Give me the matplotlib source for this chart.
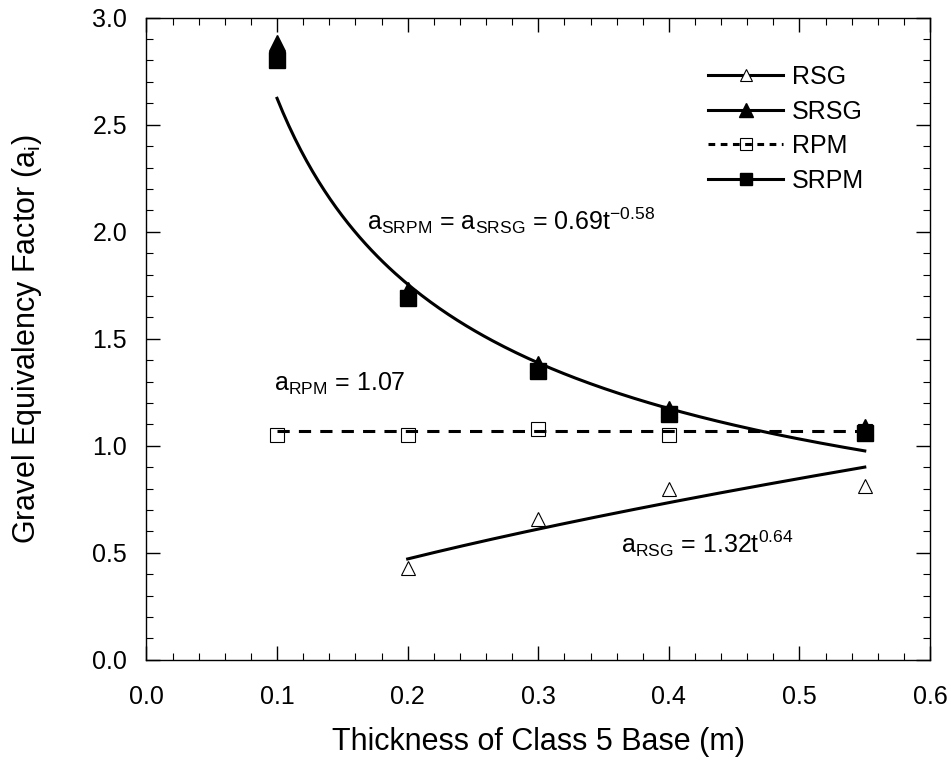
import numpy as np
import matplotlib
matplotlib.use("Agg")
import matplotlib.pyplot as plt
from matplotlib.ticker import MultipleLocator

plt.rcParams['font.family'] = ['Liberation Sans', 'DejaVu Sans']
plt.rcParams['mathtext.fontset'] = 'custom'
plt.rcParams['mathtext.rm'] = 'Liberation Sans'
plt.rcParams['mathtext.it'] = 'Liberation Sans'

# measured points
t = [0.1, 0.2, 0.3, 0.4, 0.55]
srsg = [2.88, 1.73, 1.38, 1.17, 1.09]
srpm = [2.80, 1.69, 1.35, 1.15, 1.06]
rpm = [1.05, 1.05, 1.08, 1.05, 1.07]
t_rsg = [0.2, 0.3, 0.4, 0.55]
rsg = [0.43, 0.66, 0.80, 0.81]

# fitted models shown on the chart
fit_s = (0.69, -0.58)
fit_rsg = (1.32, 0.64)
fit_rpm = 1.07

fig = plt.figure(figsize=(9.51, 7.69), dpi=100)
ax = fig.add_axes([0.154, 0.142, 0.824, 0.835])

tt = np.linspace(0.1, 0.55, 200)
tr = np.linspace(0.2, 0.55, 200)
ax.plot(tt, fit_s[0] * tt ** fit_s[1], color='black', lw=2.2, zorder=2)
ax.plot(tr, fit_rsg[0] * tr ** fit_rsg[1], color='black', lw=2.2, zorder=2)
ax.plot([0.1, 0.55], [fit_rpm, fit_rpm], color='black', lw=2.2, ls=(0, (4, 3)), zorder=2)

ax.plot(t_rsg, rsg, ls='none', marker='^', ms=10, mfc='white', mec='black', mew=0.8, zorder=3)
ax.plot(t, rpm, ls='none', marker='s', ms=10, mfc='none', mec='black', mew=0.8, zorder=3)
ax.plot(t, srsg, ls='none', marker='^', ms=11, color='black', zorder=4)
ax.plot(t, srpm, ls='none', marker='s', ms=11, color='black', zorder=4)

# legend handles
h1, = ax.plot([], [], color='black', lw=2.2, marker='^', ms=8, mfc='white', mec='black', mew=0.8)
h2, = ax.plot([], [], color='black', lw=2.2, marker='^', ms=10, mfc='black', mec='black')
h3, = ax.plot([], [], color='black', lw=2.2, ls=(0, (2.2, 1.8)), marker='s', ms=8, mfc='none', mec='black', mew=0.8)
h4, = ax.plot([], [], color='black', lw=2.2, marker='s', ms=9, mfc='black', mec='black')
ax.legend([h1, h2, h3, h4], ['RSG', 'SRSG', 'RPM', 'SRPM'], loc='upper left',
          bbox_to_anchor=(0.717, 0.926), frameon=False, fontsize=18, handlelength=3.0,
          handletextpad=0.35, labelspacing=0.42, borderpad=0, borderaxespad=0)

ax.text(0.1687, 2.01, r'a$_\mathregular{SRPM}$ = a$_\mathregular{SRSG}$ = 0.69t$^\mathregular{-0.58}$', fontsize=18)
ax.text(0.098, 1.255, r'a$_\mathregular{RPM}$ = 1.07', fontsize=18)
ax.text(0.363, 0.50, r'a$_\mathregular{RSG}$ = 1.32t$^\mathregular{0.64}$', fontsize=18)

ax.set_xlim(0, 0.6)
ax.set_ylim(0, 3.0)
ax.xaxis.set_major_locator(MultipleLocator(0.1))
ax.xaxis.set_minor_locator(MultipleLocator(0.02))
ax.yaxis.set_major_locator(MultipleLocator(0.5))
ax.yaxis.set_minor_locator(MultipleLocator(0.1))
ax.xaxis.set_major_formatter(plt.FormatStrFormatter('%.1f'))
ax.yaxis.set_major_formatter(plt.FormatStrFormatter('%.1f'))
ax.tick_params(which='both', direction='in', top=True, right=True, labelsize=18)
ax.tick_params(axis='x', which='major', pad=18)
ax.tick_params(axis='y', which='major', pad=14)
ax.tick_params(which='major', length=10, width=1)
ax.tick_params(which='minor', length=5, width=0.8)
for s in ax.spines.values():
    s.set_linewidth(1)

ax.set_xlabel('Thickness of Class 5 Base (m)', fontsize=22)
ax.set_ylabel(r'Gravel Equivalency Factor (a$_\mathregular{i}$)', fontsize=22)
ax.xaxis.set_label_coords(0.5, -0.104)
ax.yaxis.set_label_coords(-0.131, 0.5)

fig.savefig('out.png', dpi=100)
